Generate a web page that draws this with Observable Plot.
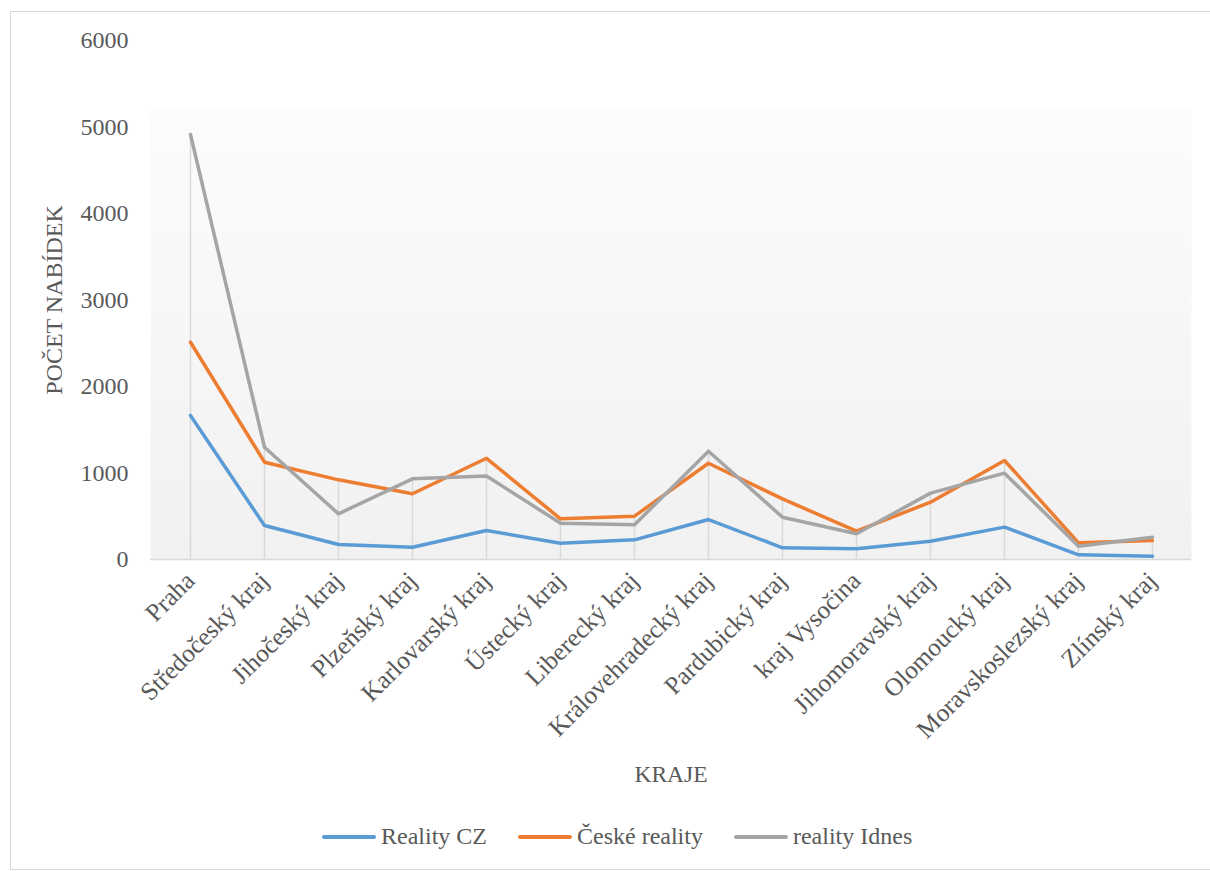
<!DOCTYPE html>
<html>
<head>
<meta charset="utf-8">
<script src="https://cdn.jsdelivr.net/npm/d3@7"></script>
<script src="https://cdn.jsdelivr.net/npm/@observablehq/plot@0.6"></script>
<style>
  html, body { margin: 0; padding: 0; background: #fff; }
  #wrap { position: relative; width: 1210px; height: 871px; overflow: hidden; font-family: "Liberation Serif", "Times New Roman", serif; }
  #border { position: absolute; left: 10px; top: 11px; width: 1400px; height: 857px; border: 1px solid #d9d9d9; }
  #chart { position: absolute; left: 0; top: 0; }
  #legend { position: absolute; left: 322px; top: 823px; display: flex; align-items: center; color: #595959; font-size: 24px; }
  .item { display: flex; align-items: center; margin-right: 31px; }
  .item svg { margin-right: 5px; }
</style>
</head>
<body>
<div id="wrap">
  <div id="border"></div>
  <div id="chart"></div>
  <div id="legend"></div>
</div>
<script>
const categories = ["Praha","Středočeský kraj","Jihočeský kraj","Plzeňský kraj","Karlovarský kraj","Ústecký kraj","Liberecký kraj","Královehradecký kraj","Pardubický kraj","kraj Vysočina","Jihomoravský kraj","Olomoucký kraj","Moravskoslezský kraj","Zlínský kraj"];
const realityCZ    = [1665, 393, 173, 142, 335, 189, 227, 462, 135, 123, 212, 374, 54, 38];
const ceskeReality = [2512, 1125, 921, 760, 1170, 470, 501, 1113, 701, 327, 663, 1145, 193, 220];
const realityIdnes = [4913, 1298, 528, 933, 965, 420, 401, 1252, 489, 297, 767, 998, 154, 258];
const seriesNames  = ["Reality CZ", "České reality", "reality Idnes"];
const seriesColors = ["#5B9BD5", "#ED7D31", "#A5A5A5"];
const yTicks = [0, 1000, 2000, 3000, 4000, 5000, 6000];

const seriesValues = [realityCZ, ceskeReality, realityIdnes];
const rows = [];
seriesNames.forEach((s, i) => categories.forEach((c, j) => rows.push({kraj: c, series: s, value: seriesValues[i][j]})));
const drops = categories.map((c, j) => ({kraj: c, max: Math.max(realityCZ[j], ceskeReality[j], realityIdnes[j])}));

const plot = Plot.plot({
  width: 1210,
  height: 871,
  marginLeft: 150,
  marginRight: 19,
  marginTop: 40,
  marginBottom: 312,
  style: {fontFamily: '"Liberation Serif", "Times New Roman", serif', color: "#595959", background: "transparent"},
  x: {type: "point", domain: categories, padding: 0.5},
  y: {domain: [0, 6000]},
  color: {domain: seriesNames, range: seriesColors},
  marks: [
    Plot.frame({fill: "url(#bggrad)", stroke: null}),
    Plot.ruleX(drops, {x: "kraj", y1: 0, y2: "max", stroke: "#d9d9d9", strokeWidth: 1.5}),
    Plot.ruleY([0], {stroke: "#d9d9d9", strokeWidth: 1.5}),
    Plot.axisY({ticks: yTicks, tickSize: 0, tickPadding: 22, tickFormat: d3.format("d"), fontSize: 24,
      label: "POČET NABÍDEK", labelAnchor: "center", labelOffset: 106, labelArrow: "none"}),
    Plot.axisX({tickSize: 0, tickPadding: 17, tickRotate: -45, fontSize: 25.3, label: null}),
    Plot.axisX({ticks: [], tickSize: 0, fontSize: 23.5,
      label: "KRAJE", labelAnchor: "center", labelOffset: 222, labelArrow: "none"}),
    Plot.line(rows, {x: "kraj", y: "value", z: "series", stroke: "series", strokeWidth: 3.5, strokeLinecap: "round", strokeLinejoin: "round"})
  ]
});

d3.select(plot).insert("defs", ":first-child").html(
  '<linearGradient id="bggrad" x1="0" y1="0" x2="0" y2="1">' +
  '<stop offset="0" stop-color="#ffffff"/><stop offset="0.132" stop-color="#ffffff"/>' +
  '<stop offset="0.133" stop-color="#fcfcfc"/><stop offset="1" stop-color="#f1f1f1"/></linearGradient>');

document.getElementById("chart").appendChild(plot);

const legend = document.getElementById("legend");
seriesNames.forEach((s, i) => {
  const item = document.createElement("div");
  item.className = "item";
  item.innerHTML = `<svg width="54" height="8"><line x1="2" y1="4" x2="52" y2="4" stroke="${seriesColors[i]}" stroke-width="4" stroke-linecap="round"/></svg><span>${s}</span>`;
  legend.appendChild(item);
});
</script>
</body>
</html>
